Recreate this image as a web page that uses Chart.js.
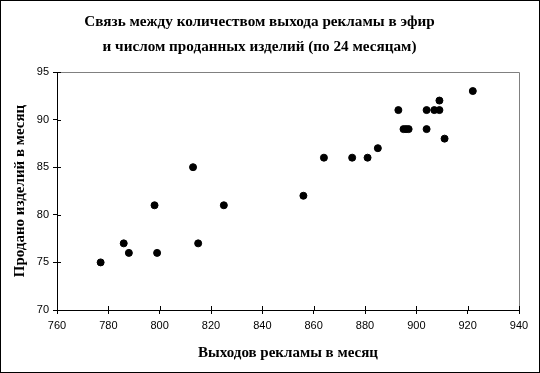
<!DOCTYPE html>
<html>
<head>
<meta charset="utf-8">
<script src="https://cdn.jsdelivr.net/npm/chart.js@4"></script>
<style>
  html, body { margin: 0; padding: 0; background: #fff; }
  #wrap { width: 540px; height: 373px; }
</style>
</head>
<body>
<div id="wrap"><canvas id="adsChart" width="540" height="373"></canvas></div>
<script>
// advertising spots per month vs. items sold (24 months)
const adSpots = [777, 786, 788, 798, 799, 813, 815, 825, 856, 864, 875, 881,
                 885, 893, 895, 896, 897, 904, 904, 907, 909, 909, 911, 922];
const itemsSold = [75, 77, 76, 81, 76, 85, 77, 81, 82, 86, 86, 86,
                   87, 91, 89, 89, 89, 91, 89, 91, 92, 91, 88, 93];
const xTicks = [760, 780, 800, 820, 840, 860, 880, 900, 920, 940];
const yTicks = [70, 75, 80, 85, 90, 95];

const points = adSpots.map((x, i) => ({ x: x, y: itemsSold[i] }));

const serif = "'Liberation Serif', 'Times New Roman', serif";
const sans = "'Liberation Sans', Arial, sans-serif";

// frame round the picture, grey border of the plot area, inner half of the tick marks
const framePlugin = {
    id: "frame",
    afterDraw(chart) {
        const { ctx, chartArea: a, scales } = chart;
        ctx.save();
        ctx.strokeStyle = "#000";
        ctx.lineWidth = 1;
        ctx.strokeRect(0.5, 0.5, chart.width - 1, chart.height - 1);

        ctx.strokeStyle = "#808080";
        ctx.beginPath();
        ctx.moveTo(a.left, a.top + 0.5);
        ctx.lineTo(a.right + 0.5, a.top + 0.5);
        ctx.lineTo(a.right + 0.5, a.bottom);
        ctx.stroke();

        ctx.strokeStyle = "#000";
        ctx.beginPath();
        xTicks.forEach((v) => {
            const px = Math.round(scales.x.getPixelForValue(v)) + 0.5;
            ctx.moveTo(px, a.bottom);
            ctx.lineTo(px, a.bottom - 4);
        });
        yTicks.forEach((v) => {
            const py = Math.round(scales.y.getPixelForValue(v)) + 0.5;
            ctx.moveTo(a.left, py);
            ctx.lineTo(a.left + 4, py);
        });
        ctx.stroke();
        ctx.restore();
    },
};

new Chart(document.getElementById("adsChart"), {
    type: "scatter",
    data: {
        datasets: [
            {
                label: "Продано",
                data: points,
                backgroundColor: "#000",
                borderColor: "#000",
                pointRadius: 3.5,
                pointHoverRadius: 3.5,
            },
        ],
    },
    options: {
        responsive: false,
        animation: false,
        layout: { padding: { left: 0, right: 21, top: 0, bottom: 0 } },
        plugins: {
            legend: { display: false },
            tooltip: { enabled: false },
            title: {
                display: true,
                text: [
                    "Связь между количеством выхода рекламы в эфир",
                    "и числом проданных изделий (по 24 месяцам)",
                ],
                color: "#000",
                font: { family: serif, size: 15.2, weight: "bold", lineHeight: "25px" },
                padding: { top: 10, bottom: 12 },
            },
        },
        scales: {
            x: {
                type: "linear",
                min: 760,
                max: 940,
                afterBuildTicks: (s) => { s.ticks = xTicks.map((v) => ({ value: v })); },
                afterFit: (s) => { s.height = 63; },
                ticks: { color: "#000", font: { family: sans, size: 11 }, padding: 5 },
                grid: { drawOnChartArea: false, tickLength: 4, color: "#000" },
                border: { color: "#000" },
                title: {
                    display: true,
                    text: "Выходов рекламы в месяц",
                    color: "#000",
                    font: { family: serif, size: 15, weight: "bold" },
                    padding: { top: 0, bottom: 11 },
                },
            },
            y: {
                type: "linear",
                min: 70,
                max: 95,
                afterBuildTicks: (s) => { s.ticks = yTicks.map((v) => ({ value: v })); },
                afterFit: (s) => { s.width = 57; },
                ticks: { color: "#000", font: { family: sans, size: 11 }, padding: 4 },
                grid: { drawOnChartArea: false, tickLength: 4, color: "#000" },
                border: { color: "#000" },
                title: {
                    display: true,
                    text: "Продано изделий в месяц",
                    color: "#000",
                    font: { family: serif, size: 15, weight: "bold" },
                    padding: { top: 11, bottom: 0 },
                },
            },
        },
    },
    plugins: [framePlugin],
});
</script>
</body>
</html>
